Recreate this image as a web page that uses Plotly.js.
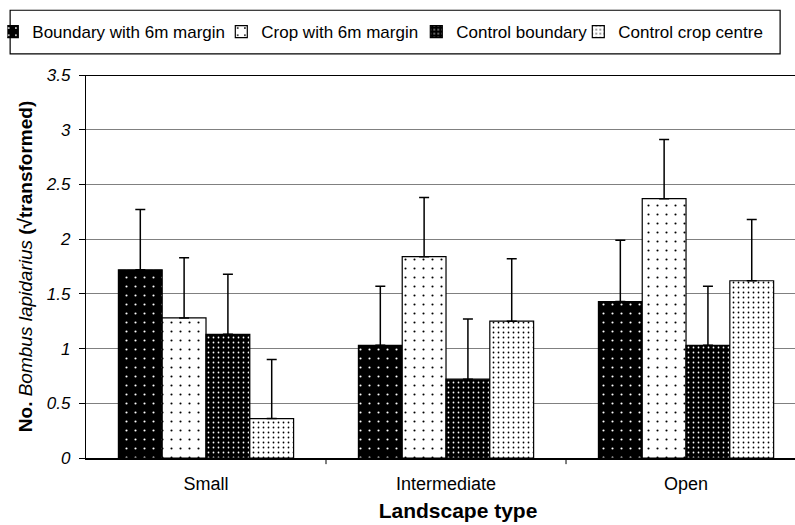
<!DOCTYPE html>
<html>
<head>
<meta charset="utf-8">
<script src="https://cdn.plot.ly/plotly-3.0.1.min.js"></script>
<style>html,body{margin:0;padding:0;background:#fff;}#chart{width:795px;height:525px;}</style>
</head>
<body>
<div id="chart"></div>
<script>
const categories = ["Small", "Intermediate", "Open"];
const seriesNames = ["Boundary with 6m margin", "Crop with 6m margin", "Control boundary", "Control crop centre"];
const boundary6m = [1.72, 1.03, 1.43];
const boundary6mErr = [0.55, 0.54, 0.56];
const crop6m = [1.28, 1.84, 2.37];
const crop6mErr = [0.55, 0.54, 0.54];
const controlBoundary = [1.13, 0.72, 1.03];
const controlBoundaryErr = [0.55, 0.55, 0.54];
const controlCrop = [0.36, 1.25, 1.62];
const controlCropErr = [0.54, 0.57, 0.56];
const yTickVals = [0, 0.5, 1, 1.5, 2, 2.5, 3, 3.5];
const yTickText = ["0", "0.5", "1", "1.5", "2", "2.5", "3", "3.5"];

const values = [boundary6m, crop6m, controlBoundary, controlCrop];
const errs = [boundary6mErr, crop6mErr, controlBoundaryErr, controlCropErr];
const styles = [
  {bg: "#000", fg: "#fff", size: 9, sol: 0.045},
  {bg: "#fff", fg: "#000", size: 9, sol: 0.045},
  {bg: "#000", fg: "#fff", size: 5, sol: 0.1},
  {bg: "#fff", fg: "#000", size: 5, sol: 0.1}
];
const legendW = [199, 165, 132, 155];

const traces = values.map((v, i) => ({
  type: "bar",
  name: seriesNames[i],
  x: categories,
  y: v,
  marker: {
    color: styles[i].bg,
    line: {color: "#000", width: 1.2},
    pattern: {shape: ".", fgcolor: styles[i].fg, bgcolor: styles[i].bg, size: styles[i].size, solidity: styles[i].sol, fillmode: "replace"}
  },
  error_y: {type: "data", array: errs[i], arrayminus: [0, 0, 0], symmetric: false, color: "#000", thickness: 1.5, width: 5},
  legendwidth: legendW[i],
  hoverinfo: "skip"
}));

// legend frame (paper coordinates)
const frameShape = {type: "rect", xref: "paper", yref: "paper", x0: -0.107, x1: 0.979, y0: 1.055, y1: 1.169,
  line: {color: "#000", width: 1.2}, fillcolor: "rgba(0,0,0,0)"};
// visible tick marks at category boundaries
const boundaryTicks = categories.slice(0, -1).map((c, i) => ({
  type: "line", xref: "x", yref: "paper", x0: i + 0.5, x1: i + 0.5, y0: 0, y1: -0.016,
  line: {color: "#000", width: 1}
}));

const layout = {
  width: 795, height: 525,
  margin: {l: 86, r: 0, t: 75, b: 67, autoexpand: false},
  paper_bgcolor: "#fff", plot_bgcolor: "#fff",
  font: {family: "Liberation Sans, Arial, sans-serif", color: "#000"},
  barmode: "group",
  bargap: 0.27,
  bargroupgap: 0,
  showlegend: true,
  legend: {
    orientation: "h", x: -0.111, xanchor: "left", y: 1.112, yanchor: "middle",
    indentation: -15,
    font: {size: 17, color: "#000"}, bgcolor: "rgba(255,255,255,0)", borderwidth: 0,
    traceorder: "normal"
  },
  xaxis: {
    type: "category",
    range: [-0.5, 2.454],
    automargin: false,
    ticks: "outside", ticklen: 9, tickcolor: "rgba(0,0,0,0)",
    showline: true, linecolor: "#000", linewidth: 1.5,
    showgrid: false, zeroline: false,
    tickfont: {size: 18, color: "#000"},
    title: {text: "<b>\u00a0\u00a0\u00a0\u00a0\u00a0\u00a0Landscape type</b>", font: {size: 21, color: "#000"}, standoff: 10}
  },
  yaxis: {
    range: [0, 3.5],
    automargin: false,
    tickvals: yTickVals, ticktext: yTickText.map(t => t + "\u00a0"),
    ticks: "outside", ticklen: 6, tickcolor: "#000",
    showline: true, linecolor: "#000", linewidth: 1.5,
    showgrid: true, gridcolor: "#808080", gridwidth: 1,
    zeroline: false,
    tickfont: {size: 17, color: "#000", style: "italic"},
    title: {text: "<b>No.</b> <i>Bombus lapidarius</i> <b>(√transformed)</b>", font: {size: 19, color: "#000"}, standoff: 8}
  },
  shapes: [
    {type: "line", xref: "paper", yref: "y", x0: 0, x1: 1, y0: 3.5, y1: 3.5, line: {color: "#000", width: 2}},
    frameShape
  ].concat(boundaryTicks)
};

Plotly.newPlot("chart", traces, layout, {staticPlot: true, displayModeBar: false});
</script>
</body>
</html>
